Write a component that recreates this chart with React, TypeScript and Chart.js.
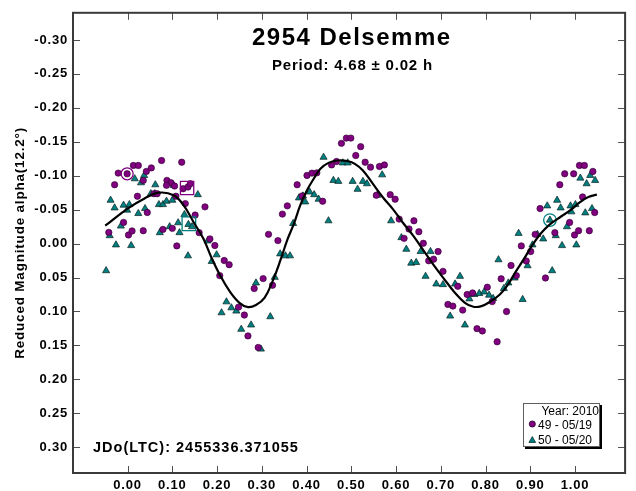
import React, { useEffect, useRef } from "react";
import { Chart, registerables } from "chart.js";

Chart.register(...registerables);

const FONT = "'Liberation Sans', Arial, Helvetica, sans-serif";

const titleText = "2954 Delsemme";
const subtitleText = "Period: 4.68 \u00b1 0.02 h";
const epochText = "JDo(LTC): 2455336.371055";
const yAxisTitle = "Reduced Magnitude alpha(12.2\u00b0)";
const legendTitle = "Year: 2010";
const seriesNames = ["49 - 05/19", "50 - 05/20"];

const xTicks = [0, 0.1, 0.2, 0.3, 0.4, 0.5, 0.6, 0.7, 0.8, 0.9, 1.0];
const xTickLabels = ["0.00", "0.10", "0.20", "0.30", "0.40", "0.50", "0.60", "0.70", "0.80", "0.90", "1.00"];
const yTicks = [-0.3, -0.25, -0.2, -0.15, -0.1, -0.05, 0, 0.05, 0.1, 0.15, 0.2, 0.25, 0.3];
const yTickLabels = ["-0.30", "-0.25", "-0.20", "-0.15", "-0.10", "-0.05", "0.00", "0.05", "0.10", "0.15", "0.20", "0.25", "0.30"];

// Session 49 (05/19) - purple circles
const s49X = [
  -0.042, -0.029, -0.021, -0.001, -0.009, 0.002, 0.010, 0.013, 0.024, 0.022,
  0.035, 0.042, 0.053, 0.035, 0.044, 0.059, 0.066, 0.076, 0.079, 0.088,
  0.097, 0.087, 0.105, 0.100, 0.108, 0.110, 0.121, 0.124, 0.135, 0.140,
  0.129, 0.151, 0.160, 0.173, 0.184, 0.195, 0.206, 0.216, 0.227, 0.248,
  0.261, 0.269, 0.283, 0.292, 0.303, 0.315, 0.324, 0.336, 0.346, 0.357,
  0.379, 0.390, 0.401, 0.412, 0.423, 0.436, 0.456, 0.467, 0.478, 0.489,
  0.499, 0.510, 0.521, 0.531, 0.543, 0.563, 0.574, 0.556, 0.587, 0.598,
  0.607, 0.618, 0.629, 0.640, 0.651, 0.661, 0.673, 0.684, 0.694, 0.705,
  0.716, 0.727, 0.738, 0.749, 0.759, 0.771, 0.781, 0.793, 0.804, 0.815,
  0.826, 0.835, 0.847, 0.857, 0.869, 0.880, 0.891, 0.901, 0.911, 0.922,
  0.934, 0.955, 0.966, 0.977, 0.997, 0.988, 0.999, 1.008, 1.010, 1.021,
  1.017, 1.032, 1.040, 1.044,
];
const s49Y = [
  -0.0165, -0.0867, -0.1038, -0.1028, -0.0311, -0.0127, -0.0186, -0.1151, -0.1151, -0.0697,
  -0.0931, -0.1063, -0.1115, -0.0190, -0.0458, -0.0735, -0.0735, -0.1224, -0.0209, -0.0931,
  -0.0896, -0.0858, -0.0848, -0.0224, -0.0697, 0.0034, -0.1199, -0.0808, -0.0833, -0.0882,
  -0.0589, -0.0420, -0.0161, -0.0541, -0.0069, 0.0029, 0.0472, 0.0249, 0.0311, 0.0936,
  0.1053, 0.1360, 0.0662, 0.1531, 0.0516, -0.0136, 0.0614, -0.0044, -0.0434, -0.0556,
  -0.0867, -0.0702, -0.1004, -0.1038, -0.1042, -0.0624, -0.1159, -0.1209, -0.1477, -0.1554,
  -0.1554, -0.1297, -0.1428, -0.1199, -0.1126, -0.1136, -0.1159, -0.0712, -0.0721, -0.0654,
  -0.0361, -0.0077, -0.0215, -0.0336, -0.0175, -0.0004, 0.0253, 0.0230, 0.0117, 0.0409,
  0.0896, 0.0921, 0.0629, 0.0980, 0.0750, 0.0727, 0.1253, 0.1287, 0.0643, 0.0855,
  0.1447, 0.0519, 0.1001, 0.0322, 0.0472, 0.0034, 0.0256, 0.0117, -0.0136, -0.0516,
  0.0507, -0.0161, -0.0867, -0.1028, -0.1028, -0.0311, -0.0127, -0.0190, -0.1151, -0.1151,
  -0.0687, -0.0190, -0.1063, -0.0458,
];

// Session 50 (05/20) - teal triangles
const s50X = [
  -0.048, -0.040, -0.038, -0.029, -0.026, -0.015, -0.009, -0.001, 0.004, 0.008,
  0.016, 0.024, 0.030, 0.037, 0.039, 0.052, 0.061, 0.062, 0.070, 0.072,
  0.079, 0.087, 0.094, 0.100, 0.103, 0.113, 0.116, 0.127, 0.135, 0.136,
  0.144, 0.157, 0.179, 0.188, 0.199, 0.210, 0.221, 0.232, 0.243, 0.254,
  0.276, 0.287, 0.298, 0.319, 0.329, 0.341, 0.353, 0.363, 0.370, 0.383,
  0.392, 0.397, 0.407, 0.417, 0.427, 0.438, 0.449, 0.460, 0.471, 0.481,
  0.492, 0.503, 0.514, 0.526, 0.535, 0.558, 0.569, 0.589, 0.612, 0.623,
  0.634, 0.645, 0.655, 0.666, 0.677, 0.690, 0.705, 0.721, 0.732, 0.743,
  0.754, 0.764, 0.775, 0.786, 0.797, 0.808, 0.817, 0.829, 0.841, 0.851,
  0.865, 0.874, 0.883, 0.894, 0.905, 0.916, 0.929, 0.938, 0.944, 0.949,
  0.957, 0.960, 0.968, 0.971, 0.982, 0.990, 0.992, 1.001, 1.003, 1.012,
  1.023, 1.026, 1.034, 1.038, 1.045,
];
const s50Y = [
  0.0399, -0.0117, -0.0639, -0.0526, 0.0019, -0.0259, -0.0566, -0.0493, -0.0575, 0.0029,
  -0.0955, -0.0443, -0.0896, -0.1004, -0.0516, -0.0735, -0.0735, -0.0867, -0.0575, -0.0161,
  -0.0575, -0.0624, -0.0249, -0.0639, -0.0858, -0.0307, -0.0161, -0.0428, 0.0180, -0.0282,
  -0.0249, -0.0721, -0.0039, 0.0263, 0.0165, 0.1019, 0.0858, 0.0946, 0.0994, 0.1262,
  0.1199, 0.0580, 0.1554, 0.1077, 0.0497, 0.0151, 0.0180, 0.0180, -0.0297, -0.0673,
  -0.0702, -0.0614, -0.0760, -0.0721, -0.0654, -0.1272, -0.0336, -0.0931, -0.0917, -0.1189,
  -0.1189, -0.0917, -0.0800, -0.0917, -0.0882, -0.0712, -0.1013, -0.0336, -0.0088, 0.0083,
  0.0288, 0.0278, 0.0117, 0.0482, 0.0117, 0.0595, 0.0604, 0.1067, 0.0595, 0.0482,
  0.1199, 0.0814, 0.0750, 0.0735, 0.0712, 0.0760, 0.0808, 0.0238, 0.0662, 0.0580,
  0.0507, -0.0151, 0.0823, 0.0326, 0.0019, -0.0136, -0.0069, -0.0556, -0.0346, 0.0399,
  -0.0117, -0.0639, -0.0526, 0.0029, -0.0249, -0.0556, -0.0468, -0.0575, 0.0019, -0.0965,
  -0.0453, -0.0882, -0.1004, -0.0516, -0.0931,
];

// Fourier fit curve
const fitX = [
  -0.050, 0.000, 0.037, 0.070, 0.103, 0.125, 0.147, 0.169, 0.188, 0.206,
  0.228, 0.250, 0.269, 0.287, 0.306, 0.324, 0.342, 0.357, 0.372, 0.386,
  0.401, 0.416, 0.431, 0.449, 0.471, 0.493, 0.508, 0.526, 0.548, 0.570,
  0.593, 0.615, 0.637, 0.659, 0.681, 0.703, 0.732, 0.754, 0.773, 0.791,
  0.810, 0.832, 0.850, 0.868, 0.887, 0.905, 0.924, 0.942, 0.968, 0.990,
  1.012, 1.030, 1.049,
];
const fitY = [
  -0.0263, -0.0516, -0.0662, -0.0750, -0.0712, -0.0566, -0.0322, -0.0077, 0.0215, 0.0458,
  0.0702, 0.0873, 0.0936, 0.0906, 0.0800, 0.0556, 0.0238, -0.0054, -0.0297, -0.0566,
  -0.0785, -0.0955, -0.1101, -0.1189, -0.1224, -0.1213, -0.1174, -0.1077, -0.0882, -0.0687,
  -0.0507, -0.0311, -0.0127, 0.0077, 0.0288, 0.0482, 0.0727, 0.0873, 0.0931, 0.0921,
  0.0858, 0.0750, 0.0604, 0.0409, 0.0215, 0.0019, -0.0151, -0.0273, -0.0395, -0.0493,
  -0.0614, -0.0687, -0.0721,
];

// Highlighted observations (first points of each session)
const ring49 = [{ x: -0.001, y: -0.1028 }];
const square49 = [{ x: 0.133, y: -0.0819 }];
const square50 = [{ x: 0.137, y: -0.0292 }];
const ring50 = [{ x: 0.944, y: -0.0346 }];

const PURPLE = "#800080";
const TEAL = "#008080";

function zip(xs: number[], ys: number[]) {
  return xs.map((x, i) => ({ x, y: ys[i] }));
}

function spacedText(
  ctx: CanvasRenderingContext2D,
  text: string,
  x: number,
  y: number,
  font: string,
  spacing: number,
  align: "left" | "center" | "right"
) {
  const c = ctx as any;
  ctx.font = font;
  c.letterSpacing = "0px";
  const w0 = ctx.measureText(text).width;
  const w = w0 + spacing * (text.length - 1);
  let left = x;
  if (align === "center") left = x - w / 2;
  if (align === "right") left = x - w;
  c.letterSpacing = spacing + "px";
  ctx.textAlign = "left";
  ctx.fillText(text, left, y);
  c.letterSpacing = "0px";
}

const decorPlugin = {
  id: "decor",
  beforeDraw(chart: any) {
    const ctx = chart.ctx as CanvasRenderingContext2D;
    ctx.save();
    ctx.fillStyle = "#ffffff";
    ctx.fillRect(0, 0, chart.width, chart.height);
    ctx.restore();
    (ctx as any).letterSpacing = "0.8px";
  },
  afterDraw(chart: any) {
    const ctx = chart.ctx as CanvasRenderingContext2D;
    const a = chart.chartArea;
    const xs = chart.scales.x;
    const ys = chart.scales.y;
    ctx.save();
    (ctx as any).letterSpacing = "0px";

    // inward tick marks on all four sides
    ctx.strokeStyle = "#505050";
    ctx.lineWidth = 1;
    ctx.beginPath();
    for (const v of xTicks) {
      const px = Math.round(xs.getPixelForValue(v)) + 0.5;
      ctx.moveTo(px, a.top);
      ctx.lineTo(px, a.top + 7);
      ctx.moveTo(px, a.bottom);
      ctx.lineTo(px, a.bottom - 7);
    }
    for (const v of yTicks) {
      const py = Math.round(ys.getPixelForValue(v)) + 0.5;
      ctx.moveTo(a.left, py);
      ctx.lineTo(a.left + 7, py);
      ctx.moveTo(a.right, py);
      ctx.lineTo(a.right - 7, py);
    }
    ctx.stroke();

    // frame
    ctx.strokeStyle = "#3a3a3a";
    ctx.lineWidth = 2;
    ctx.strokeRect(a.left, a.top, a.right - a.left, a.bottom - a.top);

    // titles
    ctx.fillStyle = "#000";
    ctx.textBaseline = "alphabetic";
    spacedText(ctx, titleText, 351, 45, `bold 24px ${FONT}`, 1.5, "center");
    spacedText(ctx, subtitleText, 352, 70, `bold 15px ${FONT}`, 0.8, "center");
    spacedText(ctx, epochText, 93, 452, `bold 14.5px ${FONT}`, 1, "left");

    // legend box
    const lx = 523, ly = 403, lw = 77, lh = 44;
    ctx.fillStyle = "#000";
    ctx.fillRect(lx + 2, ly + 2, lw, lh);
    ctx.fillStyle = "#fff";
    ctx.fillRect(lx, ly, lw, lh);
    ctx.strokeStyle = "#606060";
    ctx.lineWidth = 1;
    ctx.strokeRect(lx + 0.5, ly + 0.5, lw - 1, lh - 1);

    ctx.fillStyle = "#000";
    spacedText(ctx, legendTitle, 599, 415, `12px ${FONT}`, 0, "right");
    spacedText(ctx, seriesNames[0], 538, 428.5, `12px ${FONT}`, 0, "left");
    spacedText(ctx, seriesNames[1], 538, 444, `12px ${FONT}`, 0, "left");

    // legend symbols
    ctx.lineWidth = 0.7;
    ctx.strokeStyle = "#1a001a";
    ctx.fillStyle = PURPLE;
    ctx.beginPath();
    ctx.arc(532.3, 424, 3.1, 0, Math.PI * 2);
    ctx.fill();
    ctx.stroke();
    const tr = 3.9;
    const tcx = 532.3, tcy = 440.5;
    ctx.fillStyle = TEAL;
    ctx.strokeStyle = "#002020";
    ctx.beginPath();
    ctx.moveTo(tcx, tcy - tr);
    ctx.lineTo(tcx + tr * Math.cos(Math.PI / 6), tcy + tr / 2);
    ctx.lineTo(tcx - tr * Math.cos(Math.PI / 6), tcy + tr / 2);
    ctx.closePath();
    ctx.fill();
    ctx.stroke();

    ctx.restore();
  },
};

export default function App() {
  const ref = useRef<HTMLCanvasElement | null>(null);

  useEffect(() => {
    if (!ref.current) return;
    const tickFont = { family: FONT, size: 13, weight: "bold" as const };
    const chart = new Chart(ref.current, {
      type: "scatter",
      data: {
        datasets: [
          {
            label: "fit",
            data: zip(fitX, fitY),
            showLine: true,
            borderColor: "#000",
            borderWidth: 2.2,
            pointRadius: 0,
            tension: 0.4,
            fill: false,
            order: 0,
          } as any,
          {
            label: "ring49",
            data: ring49,
            pointStyle: "circle",
            pointRadius: 6,
            backgroundColor: "rgba(0,0,0,0)",
            borderColor: PURPLE,
            borderWidth: 1.3,
            order: 1,
          },
          {
            label: "square49",
            data: square49,
            pointStyle: "rect",
            pointRadius: 9.4,
            backgroundColor: "rgba(0,0,0,0)",
            borderColor: PURPLE,
            borderWidth: 1.3,
            order: 1,
          },
          {
            label: "square50",
            data: square50,
            pointStyle: "rect",
            pointRadius: 9.6,
            backgroundColor: "rgba(0,0,0,0)",
            borderColor: TEAL,
            borderWidth: 1.3,
            order: 1,
          },
          {
            label: "ring50",
            data: ring50,
            pointStyle: "circle",
            pointRadius: 6.3,
            backgroundColor: "rgba(0,0,0,0)",
            borderColor: TEAL,
            borderWidth: 1.3,
            order: 1,
          },
          {
            label: seriesNames[0],
            data: zip(s49X, s49Y),
            pointStyle: "circle",
            pointRadius: 3.2,
            backgroundColor: PURPLE,
            borderColor: "#2a002a",
            borderWidth: 0.6,
            order: 2,
          },
          {
            label: seriesNames[1],
            data: zip(s50X, s50Y),
            pointStyle: "triangle",
            pointRadius: 4.1,
            backgroundColor: TEAL,
            borderColor: "#0a1f1f",
            borderWidth: 0.7,
            order: 3,
          },
        ],
      },
      options: {
        animation: false,
        responsive: false,
        maintainAspectRatio: false,
        devicePixelRatio: 1,
        events: [],
        layout: { padding: { left: 0, right: 4, top: 9, bottom: 0 } },
        plugins: {
          legend: { display: false },
          tooltip: { enabled: false },
          title: { display: false },
        },
        scales: {
          x: {
            type: "linear",
            position: "bottom",
            min: -0.122,
            max: 1.112,
            afterBuildTicks: (s: any) => {
              s.ticks = xTicks.map((v) => ({ value: v }));
            },
            afterFit: (s: any) => {
              s.height = 18;
            },
            grid: { display: false, drawTicks: false },
            border: { display: false },
            ticks: {
              padding: 5,
              color: "#000",
              font: tickFont,
              autoSkip: false,
              maxRotation: 0,
              callback: (_v: any, i: number) => xTickLabels[i],
            },
          },
          y: {
            type: "linear",
            position: "left",
            reverse: true,
            min: -0.34,
            max: 0.338,
            afterBuildTicks: (s: any) => {
              s.ticks = yTicks.map((v) => ({ value: v }));
            },
            afterFit: (s: any) => {
              s.width = 73;
            },
            grid: { display: false, drawTicks: false },
            border: { display: false },
            title: {
              display: true,
              text: yAxisTitle,
              color: "#000",
              font: { family: FONT, size: 13.5, weight: "bold" },
              padding: { top: 12, bottom: 0 },
            },
            ticks: {
              padding: 5,
              color: "#000",
              font: tickFont,
              autoSkip: false,
              callback: (_v: any, i: number) => yTickLabels[i],
            },
          },
        },
      },
      plugins: [decorPlugin],
    } as any);
    return () => chart.destroy();
  }, []);

  return (
    <div style={{ position: "fixed", left: 0, top: 0, width: 636, height: 491, background: "#fff" }}>
      <canvas ref={ref} width={636} height={491} style={{ display: "block", width: 636, height: 491 }} />
    </div>
  );
}
